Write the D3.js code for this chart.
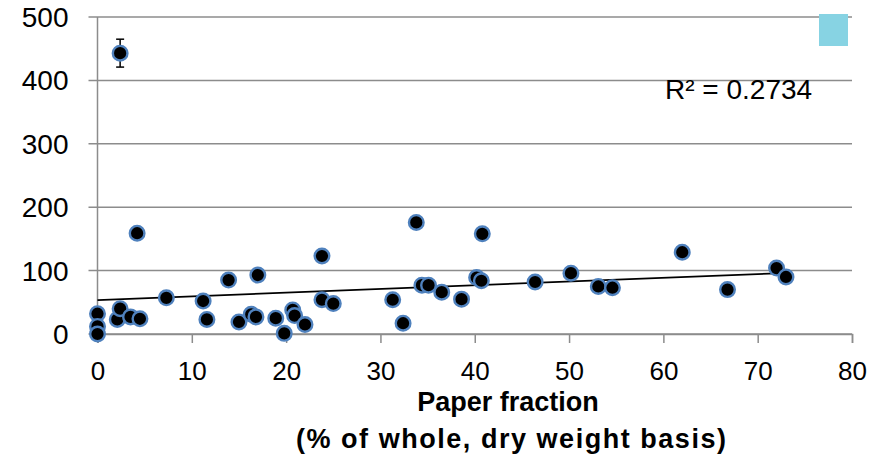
<!DOCTYPE html>
<html>
<head>
<meta charset="utf-8">
<script src="https://cdn.jsdelivr.net/npm/d3@7"></script>
<style>
  body { margin: 0; background: #fff; }
  svg { display: block; font-family: "Liberation Sans", Arial, sans-serif; }
</style>
</head>
<body>
<div id="chart"></div>
<script>
// paper fraction (% of whole, dry weight basis)
const paperFraction = [
  2.4, 0, 0, 0, 2.1, 2.4, 3.5, 4.2, 4.5, 7.3,
  11.2, 11.6, 13.9, 15.0, 16.3, 16.8, 17.0, 18.9, 19.8, 20.7,
  20.9, 22.0, 23.8, 23.8, 25.0, 31.3, 32.4, 33.8, 34.4, 35.1,
  36.5, 38.6, 40.2, 40.7, 40.8, 46.4, 50.2, 53.1, 54.6, 62.0,
  66.8, 72.0, 73.0
];
const yValues = [
  443, 32, 12, 0, 23, 40, 27, 159, 24, 57,
  52, 23, 85, 19, 31, 27, 93, 25, 1, 38,
  29, 15, 123, 54, 48, 54, 17, 176, 77, 77,
  66, 55, 89, 84, 158, 82, 96, 75, 73, 129,
  70, 104, 90
];
// error bar (only visible one, on the top point)
const errValues = [22];

const xTicks = [0, 10, 20, 30, 40, 50, 60, 70, 80];
const yTicks = [0, 100, 200, 300, 400, 500];

// linear trendline
const trendRange = [0, 72];
const trendIntercept = 53.5;
const trendSlope = 0.585;
const rSquaredLabel = "R² = 0.2734";

const width = 881, height = 456;
const margin = { top: 17, right: 29, bottom: 122, left: 97.5 };
const innerWidth = width - margin.left - margin.right;
const innerHeight = height - margin.top - margin.bottom;

const svg = d3.select("#chart").append("svg")
  .attr("width", width)
  .attr("height", height);

const g = svg.append("g")
  .attr("transform", `translate(${margin.left}, ${margin.top})`);

const xScale = d3.scaleLinear().domain([0, 80]).range([0, innerWidth]);
const yScale = d3.scaleLinear().domain([0, 500]).range([innerHeight, 0]);

const gridColor = "#8c8c8c";

// horizontal gridlines (extend left as tick marks)
g.append("g")
  .selectAll("line")
  .data(yTicks)
  .join("line")
  .attr("x1", -9)
  .attr("x2", innerWidth)
  .attr("y1", d => yScale(d))
  .attr("y2", d => yScale(d))
  .attr("stroke", gridColor)
  .attr("stroke-width", 1.5);

// y axis line
g.append("line")
  .attr("x1", 0).attr("x2", 0)
  .attr("y1", 0).attr("y2", innerHeight)
  .attr("stroke", gridColor)
  .attr("stroke-width", 1.5);

// y tick labels
g.append("g")
  .selectAll("text")
  .data(yTicks)
  .join("text")
  .attr("x", -29)
  .attr("y", d => yScale(d))
  .attr("dy", "0.36em")
  .attr("text-anchor", "end")
  .attr("font-size", 28)
  .attr("fill", "#000")
  .text(d => d);

// x axis
const xAxis = d3.axisBottom(xScale)
  .tickValues(xTicks)
  .tickSize(9)
  .tickPadding(19)
  .tickFormat(d3.format("d"));

const xg = g.append("g")
  .attr("transform", `translate(0, ${innerHeight})`)
  .call(xAxis);
xg.select(".domain").attr("stroke", gridColor).attr("stroke-width", 1.5);
xg.selectAll(".tick line").attr("stroke", gridColor).attr("stroke-width", 1.5);
xg.selectAll(".tick text")
  .attr("font-size", 26)
  .attr("font-family", "Liberation Sans, Arial, sans-serif")
  .attr("fill", "#000");

// trendline
g.append("line")
  .attr("x1", xScale(trendRange[0]))
  .attr("y1", yScale(trendIntercept + trendSlope * trendRange[0]))
  .attr("x2", xScale(trendRange[1]))
  .attr("y2", yScale(trendIntercept + trendSlope * trendRange[1]))
  .attr("stroke", "#000")
  .attr("stroke-width", 1.8);

const points = paperFraction.map((x, i) => ({ x, y: yValues[i], err: errValues[i] || 0 }));

// error bars
const errG = g.append("g").selectAll("g")
  .data(points.filter(d => d.err > 0))
  .join("g")
  .attr("stroke", "#000")
  .attr("stroke-width", 1.5);
errG.append("line")
  .attr("x1", d => xScale(d.x)).attr("x2", d => xScale(d.x))
  .attr("y1", d => yScale(d.y + d.err)).attr("y2", d => yScale(d.y - d.err));
errG.append("line")
  .attr("x1", d => xScale(d.x) - 4).attr("x2", d => xScale(d.x) + 4)
  .attr("y1", d => yScale(d.y + d.err)).attr("y2", d => yScale(d.y + d.err));
errG.append("line")
  .attr("x1", d => xScale(d.x) - 4).attr("x2", d => xScale(d.x) + 4)
  .attr("y1", d => yScale(d.y - d.err)).attr("y2", d => yScale(d.y - d.err));

// points
g.append("g")
  .selectAll("circle")
  .data(points)
  .join("circle")
  .attr("cx", d => xScale(d.x))
  .attr("cy", d => yScale(d.y))
  .attr("r", 7.3)
  .attr("fill", "#000")
  .attr("stroke", "#4f81bd")
  .attr("stroke-width", 2.4);

// R² label
svg.append("text")
  .attr("x", 665)
  .attr("y", 99)
  .attr("font-size", 28)
  .attr("fill", "#000")
  .text(rSquaredLabel);

// legend swatch
svg.append("rect")
  .attr("x", 819)
  .attr("y", 14)
  .attr("width", 29)
  .attr("height", 32)
  .attr("fill", "#87d3e3");

// x axis title
const title = svg.append("text")
  .attr("text-anchor", "middle")
  .attr("font-weight", "bold")
  .attr("font-size", 27)
  .attr("fill", "#000");
title.append("tspan").attr("x", 508).attr("y", 411).text("Paper fraction");
title.append("tspan").attr("x", 511).attr("y", 448)
  .attr("textLength", 430)
  .attr("lengthAdjust", "spacing")
  .text("(% of whole, dry weight basis)");
</script>
</body>
</html>
